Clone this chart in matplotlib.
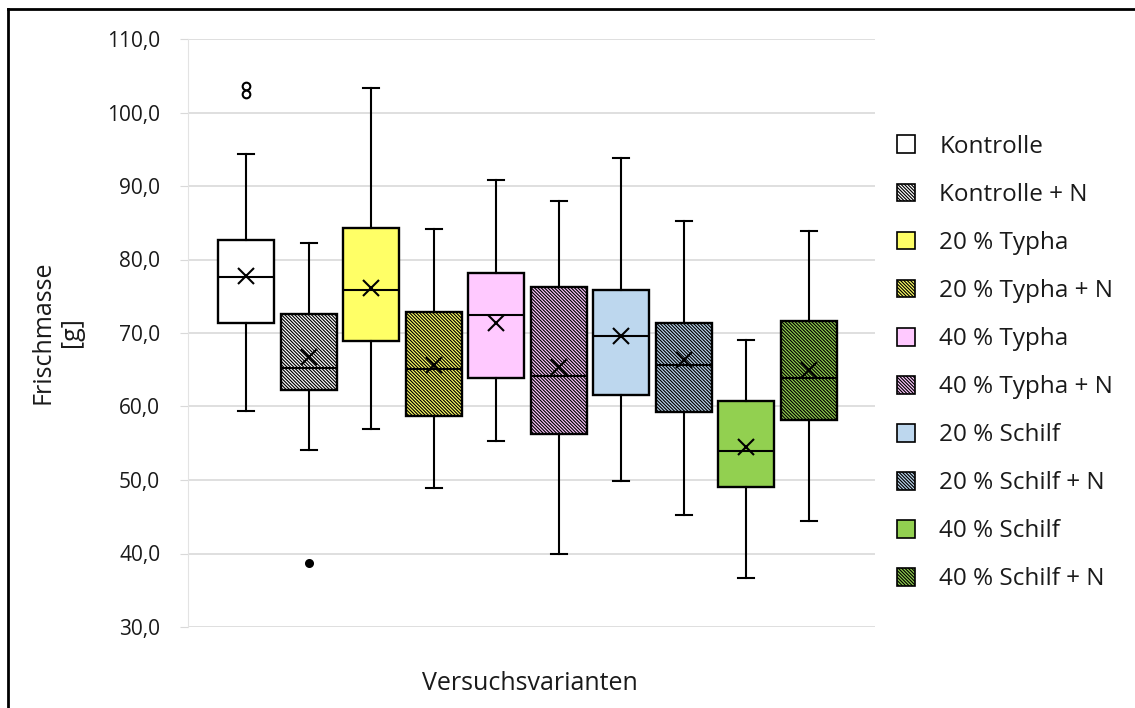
import matplotlib
matplotlib.use("Agg")
import matplotlib.pyplot as plt
from matplotlib.patches import Patch
from matplotlib.lines import Line2D

plt.rcParams['font.family'] = ['Open Sans', 'DejaVu Sans']
plt.rcParams['hatch.linewidth'] = 0.85

# Daten
varianten = ["Kontrolle", "Kontrolle + N", "20 % Typha", "20 % Typha + N",
             "40 % Typha", "40 % Typha + N", "20 % Schilf", "20 % Schilf + N",
             "40 % Schilf", "40 % Schilf + N"]
w_oben = [94.4, 82.2, 103.3, 84.1, 90.8, 87.9, 93.8, 85.3, 69.0, 83.9]
q3 = [82.7, 72.6, 84.3, 72.8, 78.2, 76.3, 75.9, 71.4, 60.7, 71.7]
median = [77.6, 65.2, 75.9, 65.1, 72.5, 64.2, 69.6, 65.6, 54.0, 63.9]
mittel = [77.7, 66.7, 76.1, 65.6, 71.4, 65.4, 69.6, 66.3, 54.5, 64.9]
q1 = [71.3, 62.2, 68.9, 58.7, 63.9, 56.2, 61.6, 59.3, 49.0, 58.1]
w_unten = [59.4, 54.1, 56.9, 48.9, 55.3, 40.0, 49.8, 45.2, 36.7, 44.4]
ausreisser = [[103.6, 102.5], [38.7], [], [], [], [], [], [], [], []]

farben = ["#FFFFFF", "#FFFFFF", "#FFFF66", "#FFFF66", "#FFC9FF", "#FFC9FF",
          "#BDD7EE", "#BDD7EE", "#92D050", "#92D050"]
h = "\\" * 10
schraffur = [None, h, None, h, None, h, None, h, None, h]

stats = []
for i in range(len(varianten)):
    stats.append(dict(med=median[i], q1=q1[i], q3=q3[i], whislo=w_unten[i],
                      whishi=w_oben[i], mean=mittel[i], fliers=ausreisser[i]))

fig = plt.figure(figsize=(11.35, 7.08), dpi=100)
ax = fig.add_axes([188 / 1135, 1 - 627 / 708, 687 / 1135, 588 / 708])

pos = list(range(1, len(varianten) + 1))
bp = ax.bxp(stats, positions=pos, widths=0.9, capwidths=0.26, showmeans=True,
            patch_artist=True,
            boxprops=dict(edgecolor="black", linewidth=1.7),
            medianprops=dict(color="black", linewidth=1.5),
            whiskerprops=dict(color="black", linewidth=1.5),
            capprops=dict(color="black", linewidth=1.5),
            meanprops=dict(marker="x", markersize=12, markeredgecolor="black",
                           markeredgewidth=1.5),
            flierprops=dict(marker="o", markersize=5.5, markerfacecolor="white",
                            markeredgecolor="black", markeredgewidth=1.5))
for box, fc, hs in zip(bp["boxes"], farben, schraffur):
    box.set_facecolor(fc)
    if hs:
        box.set_hatch(hs)
# dunkler Ausreisser wie im Original
for fl in bp["fliers"][1:2]:
    fl.set_markerfacecolor("black")
    fl.set_markersize(5)

ax.set_xlim(0.07, 11.06)
ax.set_ylim(30, 110)
ax.set_yticks(range(30, 111, 10))
ax.set_yticklabels([f"{v},0" for v in range(30, 111, 10)])
ax.set_xticks([])
ax.grid(axis="y", color="#D9D9D9", linewidth=1.2)
ax.set_axisbelow(True)
for s in ["top", "right", "bottom"]:
    ax.spines[s].set_visible(False)
ax.spines["left"].set_color("#E3E3E3")
ax.tick_params(axis="y", length=6, color="#D9D9D9", labelsize=15, pad=14,
               labelcolor="#1A1A1A")

fig.text(57 / 1135, 1 - 332 / 708, "Frischmasse\n[g]", rotation=90, ha="center",
         va="center", fontsize=18, color="#1A1A1A", linespacing=1.2)
fig.text(530 / 1135, 1 - 683 / 708, "Versuchsvarianten", ha="center", va="center",
         fontsize=18, color="#1A1A1A")

handles = []
for fc, hs in zip(farben, schraffur):
    handles.append(Patch(facecolor=fc, edgecolor="black", hatch=hs, linewidth=1.2))
fig.legend(handles, varianten, loc="upper left",
           bbox_to_anchor=(875 / 1135, 1 - 113 / 708), frameon=False,
           fontsize=17.5, handlelength=0.75, handleheight=0.75, handletextpad=1.0,
           labelspacing=0.99, labelcolor="#1A1A1A")

# Rahmen links und oben
fig.add_artist(Line2D([7.5 / 1135, 7.5 / 1135], [0, 1 - 9 / 708], color="black",
                      linewidth=2, transform=fig.transFigure))
fig.add_artist(Line2D([7.5 / 1135, 1], [1 - 9 / 708, 1 - 9 / 708], color="black",
                      linewidth=2, transform=fig.transFigure))

fig.savefig("out.png", dpi=100)
